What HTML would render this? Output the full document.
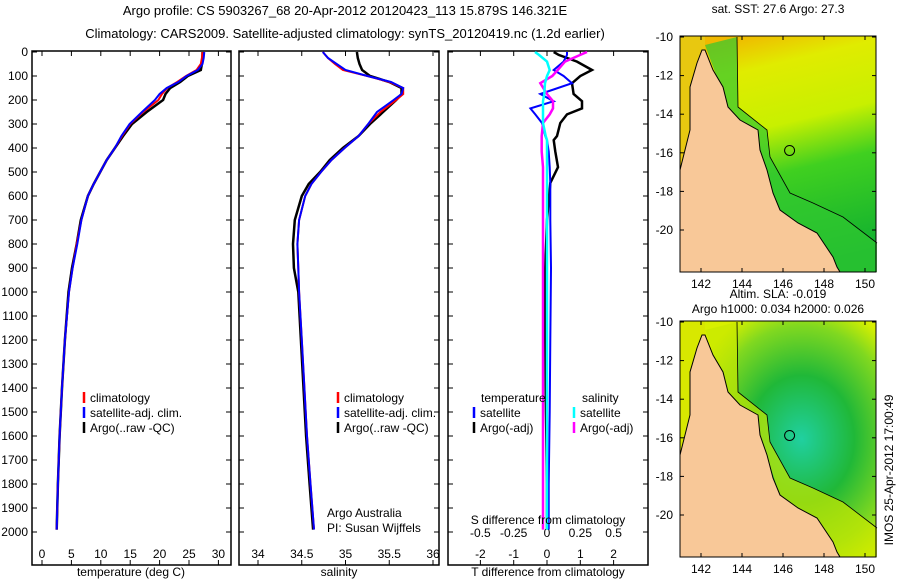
<!DOCTYPE html>
<html><head><meta charset="utf-8"><style>
body{margin:0;background:#fff;}
svg{display:block;font-family:"Liberation Sans",sans-serif;}
text{font-size:12px;fill:#000;}
</style></head><body>
<svg id="c" width="900" height="580" viewBox="0 0 900 580">
<text x="345" y="15" text-anchor="middle" style="font-size:13px">Argo profile: CS 5903267_68 20-Apr-2012 20120423_113 15.879S 146.321E</text>
<text x="345" y="38" text-anchor="middle" style="font-size:13px">Climatology: CARS2009. Satellite-adjusted climatology: synTS_20120419.nc (1.2d earlier)</text>
<g id="panels"></g>
<g id="maps"></g>
<text transform="translate(893,470) rotate(-90)" text-anchor="middle">IMOS 25-Apr-2012 17:00:49</text>
</svg>
<script>
// ---- data ----
const depths = [0,25,50,75,100,125,150,175,200,250,300,350,400,450,500,550,600,700,800,900,1000,1200,1400,1600,1800,1990];
const tempArgo = [27.3,27.3,27.2,27.0,24.8,23.5,21.8,21.0,20.6,17.8,15.3,13.8,12.4,11.0,9.9,8.8,7.8,6.6,5.9,5.1,4.5,3.9,3.4,3.0,2.7,2.5];
const tempClim = [27.3,27.2,27.0,26.3,24.5,23.0,21.3,20.4,19.8,17.2,15.0,13.6,12.4,11.0,9.9,8.8,7.8,6.7,5.9,5.2,4.6,3.9,3.4,3.0,2.7,2.5];
const tempSat  = [27.6,27.5,27.3,26.5,24.6,23.2,21.2,20.0,19.2,17.0,14.9,13.5,12.4,11.0,9.9,8.8,7.8,6.7,6.0,5.2,4.6,3.9,3.4,3.0,2.7,2.5];
const salArgo = [35.13,35.14,35.16,35.19,35.28,35.50,35.64,35.64,35.58,35.43,35.28,35.15,34.97,34.82,34.71,34.58,34.50,34.42,34.40,34.41,34.46,34.49,34.52,34.55,34.59,34.63];
const salClim = [34.74,34.80,34.88,34.97,35.25,35.50,35.66,35.66,35.58,35.40,35.26,35.15,34.99,34.84,34.72,34.61,34.54,34.47,34.45,34.46,34.47,34.50,34.53,34.56,34.60,34.64];
const salSat  = [34.74,34.80,34.90,35.00,35.25,35.52,35.66,35.64,35.55,35.36,35.26,35.15,34.99,34.84,34.72,34.61,34.54,34.47,34.45,34.46,34.47,34.50,34.53,34.56,34.60,34.64];
const diffDepths = [0,12,40,75,100,130,175,205,235,260,296,350,367,415,480,546,700,900,1200,1500,1800,1990];
const tDiffArgo = [0.2,0.35,0.9,1.35,1.0,0.75,0.8,1.05,1.05,0.6,0.4,0.3,0.2,0.25,0.33,0.1,0.0,-0.05,-0.05,-0.03,0.0,0.0];
const tDiffSat  = [0.6,0.6,0.5,0.2,0.5,0.75,-0.2,0.2,-0.5,-0.35,-0.15,-0.05,0.0,0.05,0.08,0.1,0.1,0.12,0.1,0.08,0.05,0.05];
const sDiffSat  = [-0.09,-0.06,0.0,0.02,0.0,-0.015,-0.02,-0.03,-0.03,-0.03,-0.03,-0.01,0.0,0.0,0.0,0.0,0.0,0.0,0.0,0.0,0.0,0.0];
const sDiffArgo = [0.3,0.25,0.135,0.08,0.04,-0.05,0.0,0.045,0.045,0.02,-0.03,-0.04,-0.04,-0.04,-0.03,-0.03,-0.03,-0.03,-0.03,-0.03,-0.03,-0.03];
const depthTicks = [0,100,200,300,400,500,600,700,800,900,1000,1100,1200,1300,1400,1500,1600,1700,1800,1900,2000];
const tempTicks = [0,5,10,15,20,25,30];
const salTicks = [34,34.5,35,35.5,36];
const tDiffTicks = [-2,-1,0,1,2];
const sDiffTicks = [-0.5,-0.25,0,0.25,0.5];
const latTicks = [-10,-12,-14,-16,-18,-20];
const lonTicks = [142,144,146,148,150];

const NS='http://www.w3.org/2000/svg';
function el(t,a,p){const e=document.createElementNS(NS,t);for(const k in a)e.setAttribute(k,a[k]);(p||document.getElementById('c')).appendChild(e);return e;}
const yD = d => 52 + d*0.24;
const P = document.getElementById('panels');

function frame(x0,x1,name){
  const r=el('rect',{x:x0,y:51,width:x1-x0,height:514,fill:'none',stroke:'#000','stroke-width':1.5},P);
  
  
}
function xticks(vals,fx,y,name,lab){
  vals.forEach(v=>{
    const x=fx(v);
    el('line',{x1:x,x2:x,y1:51,y2:56,stroke:'#000'},P);
    el('line',{x1:x,x2:x,y1:565,y2:560,stroke:'#000'},P);
    if(lab){const t=el('text',{x:x,y:y,'text-anchor':'middle'},P);t.textContent=lab(v);
      
      }
  });
}
function line(xs,ds,fx,col,w,name){
  const pts=xs.map((v,i)=>fx(v).toFixed(1)+','+yD(ds[i]).toFixed(1)).join(' ');
  const l=el('polyline',{points:pts,fill:'none',stroke:col,'stroke-width':w},P);
  
  
}
function legend(x,y,col,label,name){
  el('line',{x1:x,x2:x,y1:y-10,y2:y+1,stroke:col,'stroke-width':2.5},P);
  const t=el('text',{x:x+6,y:y},P);t.textContent=label;
  
  
}

// Panel 1: temperature
const fxT = v => 42 + v*5.88;
frame(32,231,'temperature-panel');
depthTicks.forEach(d=>{
  el('line',{x1:32,x2:37,y1:yD(d),y2:yD(d),stroke:'#000'},P);
  el('line',{x1:231,x2:226,y1:yD(d),y2:yD(d),stroke:'#000'},P);
  const t=el('text',{x:28,y:yD(d)+4,'text-anchor':'end'},P);t.textContent=d;
  
  
});
xticks(tempTicks,fxT,558,'temp-tick-label',v=>v);
line(tempArgo,depths,fxT,'#000',2.5,'temp-argo-line');
line(tempClim,depths,fxT,'#f00',2,'temp-clim-line');
line(tempSat,depths,fxT,'#00f',2,'temp-sat-line');
legend(84,402,'#f00','climatology','legend-climatology');
legend(84,417,'#00f','satellite-adj. clim.','legend-satellite-adj');
legend(84,432,'#000','Argo(..raw -QC)','legend-argo');
let t;
t=el('text',{x:131,y:576,'text-anchor':'middle'},P);t.textContent='temperature (deg C)';



// Panel 2: salinity
const fxS = v => 258 + (v-34)*87.5;
frame(239,439,'salinity-panel');
depthTicks.forEach(d=>{el('line',{x1:239,x2:244,y1:yD(d),y2:yD(d),stroke:'#000'},P);el('line',{x1:439,x2:434,y1:yD(d),y2:yD(d),stroke:'#000'},P);});
xticks(salTicks,fxS,558,'salinity-tick-label',v=>v);
line(salArgo,depths,fxS,'#000',2.5,'sal-argo-line');
line(salClim,depths,fxS,'#f00',2,'sal-clim-line');
line(salSat,depths,fxS,'#00f',2,'sal-sat-line');
legend(338,402,'#f00','climatology','legend-climatology-2');
legend(338,417,'#00f','satellite-adj. clim.','legend-satellite-adj-2');
legend(338,432,'#000','Argo(..raw -QC)','legend-argo-2');
t=el('text',{x:327,y:517},P);t.textContent='Argo Australia';


t=el('text',{x:327,y:532},P);t.textContent='PI: Susan Wijffels';


t=el('text',{x:339,y:576,'text-anchor':'middle'},P);t.textContent='salinity';



// Panel 3: differences
const fxTD = v => 547 + v*33.3;
const fxSD = v => 547 + v*133.3;
frame(448,648,'difference-panel');
depthTicks.forEach(d=>{el('line',{x1:448,x2:453,y1:yD(d),y2:yD(d),stroke:'#000'},P);el('line',{x1:648,x2:643,y1:yD(d),y2:yD(d),stroke:'#000'},P);});
xticks(tDiffTicks,fxTD,558,'tdiff-tick-label',v=>v);
sDiffTicks.forEach(v=>{const t=el('text',{x:fxSD(v),y:537,'text-anchor':'middle'},P);t.textContent=v;
  
  });
line(tDiffArgo,diffDepths,fxTD,'#000',2.5,'tdiff-argo-line');
line(tDiffSat,diffDepths,fxTD,'#00f',2,'tdiff-sat-line');
line(sDiffArgo,diffDepths,fxSD,'#f0f',2.5,'sdiff-argo-line');
line(sDiffSat,diffDepths,fxSD,'#0ff',2.5,'sdiff-sat-line');
t=el('text',{x:481,y:402},P);t.textContent='temperature';


t=el('text',{x:582,y:402},P);t.textContent='salinity';


legend(474,417,'#00f','satellite','legend-t-satellite');
legend(474,432,'#000','Argo(-adj)','legend-t-argo');
legend(574,417,'#0ff','satellite','legend-s-satellite');
legend(574,432,'#f0f','Argo(-adj)','legend-s-argo');
t=el('text',{x:548,y:524,'text-anchor':'middle'},P);t.textContent='S difference from climatology';


t=el('text',{x:548,y:576,'text-anchor':'middle'},P);t.textContent='T difference from climatology';



// Maps
const M=document.getElementById('maps');
const landPts = [[702,50],[705,50],[713,70],[723,87],[728,107],[740,120],[758,130],[760,150],[767,170],[773,193],[780,210],[798,223],[817,233],[833,257],[837,267],[840,272],[680,272],[680,170],[690,130],[690,87],[697,63]];
const isoPts = [[737,37],[738,107],[767,130],[770,157],[790,193],[813,203],[843,217],[877,243]];
function pstr(a,dy){return a.map(p=>p[0]+','+(p[1]+dy)).join(' ');}
function drawMap(top,name,stops,titles,titleY){
  const g=el('g',{},M);
  
  
  const dy=top-36;
  const lat0=top+1, sc=19.3;
  const fy = la => lat0 + (-10-la)*sc;
  const fx = lo => 701 + (lo-142)*20.5;
  const id=name+'-grad';
  const d=el('defs',{},g);
  const gr=el(stops.radial?'radialGradient':'linearGradient',stops.radial?{id:id,cx:'0.62',cy:'0.5',r:'0.6'}:{id:id,x1:'0.3',y1:'0',x2:'0.5',y2:'1'},d);
  stops.s.forEach(s=>el('stop',{offset:s[0],'stop-color':s[1]},gr));
  el('rect',{x:680,y:top,width:196,height:236,fill:'url(#'+id+')'},g);
  el('polygon',{points:pstr([[680,36],[705,36],[705,150],[680,170]],dy),fill:stops.west},g);
  el('polygon',{points:pstr([[705,45],[737,37],[738,107],[767,130],[770,157],[790,193],[813,203],[843,217],[877,243],[877,272],[800,272],[760,150],[728,107]],dy),fill:stops.shelf,opacity:0.7},g);
  el('polyline',{points:pstr(isoPts,dy),fill:'none',stroke:'#000','stroke-width':0.8},g);
  el('polygon',{points:pstr(landPts,dy),fill:'#f8c898',stroke:'#000','stroke-width':1},g);
  el('circle',{cx:fx(146.321),cy:fy(-15.879),r:5,fill:'none',stroke:'#000'},g);
  el('rect',{x:680,y:top,width:196,height:236,fill:'none',stroke:'#000'},g);
  latTicks.forEach(la=>{const y=fy(la);el('line',{x1:680,x2:684,y1:y,y2:y,stroke:'#000'},g);el('line',{x1:876,x2:872,y1:y,y2:y,stroke:'#000'},g);
    const t=el('text',{x:673,y:y+4,'text-anchor':'end'},g);t.textContent=la;
    
    });
  lonTicks.forEach(lo=>{const x=fx(lo);el('line',{x1:x,x2:x,y1:top+236,y2:top+232,stroke:'#000'},g);el('line',{x1:x,x2:x,y1:top,y2:top+4,stroke:'#000'},g);
    const t=el('text',{x:x,y:top+252,'text-anchor':'middle'},g);t.textContent=lo;
    
    });
  titles.forEach((s,i)=>{const t=el('text',{x:778,y:titleY+i*15,'text-anchor':'middle'},g);t.textContent=s;
    
    });
}
drawMap(36,'sst-map',{s:[['0','#f0b800'],['0.15','#e0ec00'],['0.4','#c8f000'],['0.6','#40d020'],['1','#10b030']],west:'#e8c810',shelf:'#30c830'},['sat. SST: 27.6 Argo: 27.3'],13);
drawMap(321,'sla-map',{radial:true,s:[['0','#20d0a0'],['0.45','#20b838'],['0.8','#80d820'],['1','#d8f000']],west:'#d8e800',shelf:'#c8e800'},['Altim. SLA: -0.019','Argo h1000: 0.034 h2000: 0.026'],298);
</script>
</body></html>
